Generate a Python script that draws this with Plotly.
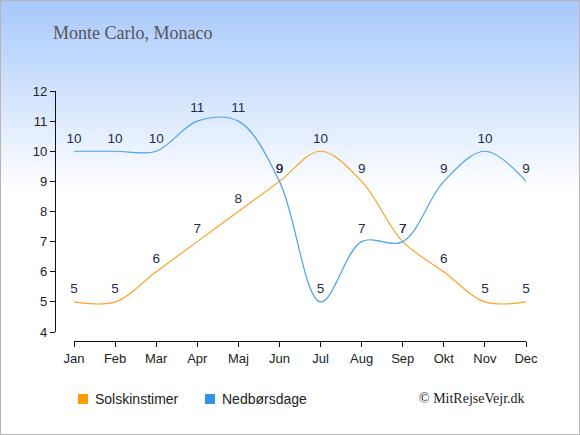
import plotly.graph_objs as go

months = ['Jan', 'Feb', 'Mar', 'Apr', 'Maj', 'Jun', 'Jul', 'Aug', 'Sep', 'Okt', 'Nov', 'Dec']
sun_hours = [5, 5, 6, 7, 8, 9, 10, 9, 7, 6, 5, 5]
rain_days = [10, 10, 10, 11, 11, 9, 5, 7, 7, 9, 10, 9]
y_ticks = [4, 5, 6, 7, 8, 9, 10, 11, 12]
series_names = ['Solskinstimer', 'Nedbørsdage']
swatch_colors = ['#ff9c00', '#2f93e6']

W, H = 580, 435
L, R, T, B = 55, 54, 91, 94
PW, PH = W - L - R, H - T - B


def px(x):
    return (x - L) / PW


def py(y):
    return (H - B - y) / PH


bg_svg = (
    "data:image/svg+xml;utf8,"
    "<svg xmlns='http://www.w3.org/2000/svg' width='580' height='435' preserveAspectRatio='none'>"
    "<defs><linearGradient id='g' x1='0' y1='0' x2='0' y2='1'>"
    "<stop offset='0' stop-color='%23a7c8fb'/>"
    "<stop offset='0.44' stop-color='%23ffffff'/>"
    "<stop offset='1' stop-color='%23ffffff'/>"
    "</linearGradient></defs>"
    "<rect width='580' height='435' fill='url(%23g)'/></svg>"
)

label_font = dict(family='Liberation Sans, Arial', size=13.5, color='#1d2d4d')

data = [
    go.Scatter(
        x=months, y=sun_hours, mode='lines+markers+text', name=series_names[0],
        line=dict(color='#f9a427', width=1.2, shape='spline', smoothing=1),
        marker=dict(size=7, color='rgba(0,0,0,0)'),
        text=[str(v) for v in sun_hours], textposition='top center',
        textfont=label_font, cliponaxis=False, showlegend=False, hoverinfo='skip'
    ),
    go.Scatter(
        x=months, y=rain_days, mode='lines+markers+text', name=series_names[1],
        line=dict(color='#4aa3ee', width=1.2, shape='spline', smoothing=1),
        marker=dict(size=7, color='rgba(0,0,0,0)'),
        text=[str(v) for v in rain_days], textposition='top center',
        textfont=label_font, cliponaxis=False, showlegend=False, hoverinfo='skip'
    ),
]

shapes = [dict(type='rect', xref='paper', yref='paper',
               x0=px(0.5), x1=px(W - 0.5), y0=py(H - 0.5), y1=py(0.5),
               line=dict(color='#b5b5b5', width=1), fillcolor='rgba(0,0,0,0)')]
annotations = [
    dict(text='Monte Carlo, Monaco', xref='paper', yref='paper', x=px(51), y=py(33),
         xanchor='left', yanchor='middle', showarrow=False,
         font=dict(family='Liberation Serif, Georgia, serif', size=18, color='#555')),
    dict(text='© MitRejseVejr.dk', xref='paper', yref='paper', x=px(527), y=py(398),
         xanchor='right', yanchor='middle', showarrow=False,
         font=dict(family='Liberation Serif, Georgia, serif', size=14, color='#222')),
]

# legend drawn by hand: square swatch then label
for name, color, sx in zip(series_names, swatch_colors, [78, 205]):
    shapes.append(dict(type='rect', xref='paper', yref='paper',
                       x0=px(sx), x1=px(sx + 10), y0=py(404), y1=py(394),
                       line=dict(width=0), fillcolor=color))
    annotations.append(dict(text=name, xref='paper', yref='paper', x=px(sx + 15), y=py(399),
                            xanchor='left', yanchor='middle', showarrow=False,
                            font=dict(family='Liberation Sans, Arial', size=14, color='#222')))

layout = go.Layout(
    width=W, height=H,
    margin=dict(l=L, r=R, t=T, b=B),
    paper_bgcolor='white', plot_bgcolor='rgba(0,0,0,0)',
    font=dict(family='Liberation Sans, Arial', size=12, color='#222'),
    showlegend=False,
    xaxis=dict(domain=[px(74), 1], range=[0, 11], anchor='free', position=0,
               showline=True, linecolor='#111', linewidth=1.3,
               ticks='outside', ticklen=5, tickcolor='#111',
               showgrid=False, zeroline=False, fixedrange=True,
               tickfont=dict(size=13, color='#222')),
    yaxis=dict(domain=[py(332), 1], range=[4, 12], anchor='free', position=0,
               tickvals=y_ticks, showline=True, linecolor='#111', linewidth=1.3,
               ticks='outside', ticklen=5, tickcolor='#111',
               showgrid=False, zeroline=False, fixedrange=True,
               tickfont=dict(size=13, color='#222')),
    images=[dict(source=bg_svg, xref='paper', yref='paper', x=px(0), y=py(0),
                 sizex=W / PW, sizey=H / PH, sizing='stretch', layer='below')],
    shapes=shapes,
    annotations=annotations,
)

fig = go.Figure(data=data, layout=layout)
fig.write_html("out.html", config={'displayModeBar': False},
               post_script="document.body.style.margin='0';")
